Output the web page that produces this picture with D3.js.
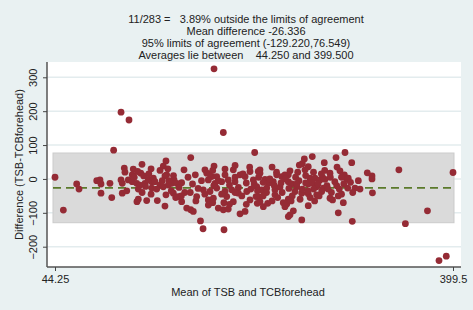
<!DOCTYPE html>
<html><head><meta charset="utf-8">
<script src="https://cdn.jsdelivr.net/npm/d3@7"></script>
<style>body{margin:0;background:#e9f1f2;} svg{display:block;} text{font-family:"Liberation Sans",Arial,sans-serif;fill:#222;}</style>
</head><body><svg id="c" width="473" height="310"></svg>
<script>
const titleLines = [
  "11/283 =   3.89% outside the limits of agreement",
  "Mean difference -26.336",
  "95% limits of agreement (-129.220,76.549)",
  "Averages lie between    44.250 and 399.500"
];
const meanDiff = -26.336;
const loaLower = -129.220;
const loaUpper = 76.549;
const xMin = 44.25, xMax = 399.5;
const yTicks = [-200, -100, 0, 100, 200, 300];
const xTickLabels = ["44.25", "399.5"];
const xTitle = "Mean of TSB and TCBforehead";
const yTitle = "Difference (TSB-TCBforehead)";

// mean of the two methods
const means = [186.2,103.2,110.3,194.5,96.6,44.25,51.7,387,393.5,357,376.7,399.5,351.2,323,327.2,327.2,327.6,316.5,174.1,176.4,195.1,264.5,309.6,297.1,
63.6,65.7,81.5,84.4,85.3,93.3,85.3,94.9,103.2,104.3,106.1,106.7,114.1,113.2,121.9,120.8,123.4,109.7,113.2,117.2,120.1,104.3,108.3,118.6,124.6,127.5,130.6,117.4,118.6,126.1,130.6,
222.5,143.3,140.9,165.4,159.4,169.5,143.9,142.4,132,133.5,150.5,148.4,138,140.9,145.4,152.9,157.3,135.6,142.4,143.3,149.9,154.3,157.3,161.8,165.4,167.7,178.1,179.7,186.2,184.1,188.6,196,203.4,181.1,187.1,193,198.9,204.9,209.4,213.9,218.3,221.3,176.6,182.6,188.6,196,202,207.9,215.4,170.7,181.1,185.6,197.5,203.4,218.3,223.7,190,194.5,198.9,209.4,213.9,181.1,225.7,224.8,
303.1,273.9,266.8,295.1,262.3,270.3,267.4,260.9,284.6,309.1,227.2,227.2,254,252.5,298.6,302.5,304.6,289.7,242.1,246.6,249.5,271.9,276.3,280.8,285.3,231.7,234.7,239.1,252.5,255.5,260,270.3,273.9,277.8,283.7,295.7,305.5,312,224.3,228.8,233.2,240.6,245.1,258.5,264.5,270.3,277.8,282.3,225.7,227.2,230.2,234.1,240.6,252.5,251.1,249.5,270.3,289.7,297.1,301.6,257,254,252.5,
115,118,125,128,135,138,146,150,155,160,163,167,172,175,178,182,186,190,193,196,200,205,208,211,215,219,222,226,230,233,236,240,243,246,250,253,256,259,262,265,268,272,275,279,283,287,291,294,298,302,306,310,122,130,145,157,170,185,200,212,218,238,247,255,263,268,280,285,292,296,300,130,140,165,185,195,205,225,230,242,248,260,270,276,282,290,308,315,148,152,205,215,238,265,275,288,300];
// difference of the two methods
const diffs = [325,197,174,137,85,5,-92,-241,-228,-132,-94,19,27,18,9,0,-41,-30,-124,-147,-150,-121,-125,-100,
-15,-30,-5,-3,-15,-13,-42,-55,-3,-13,32,20,29,12,43,17,9,-3,-8,-13,-18,-42,-35,-30,-13,-3,-8,-67,-60,-64,-27,
78,53,38,63,27,12,12,9,2,-8,-3,-13,-18,-23,-18,-13,-11,-64,-80,-47,-42,-52,-67,-86,-91,-96,27,17,38,7,7,29,27,-3,-13,-8,-3,-8,12,7,22,-3,-32,-37,-27,-37,-32,-42,-37,-52,-62,-57,-52,-67,-62,-52,-86,-91,-89,-103,-96,-77,22,-72,
78,66,59,63,41,36,27,20,48,48,27,17,24,12,24,12,-1,17,12,7,12,2,2,-3,-1,-1,-13,-8,-8,-15,-23,-15,-11,-23,-27,-20,-27,-27,-23,-32,-27,-32,-24,-37,-42,-44,-47,-37,-52,-67,-82,-72,-47,-60,-74,-82,-79,-57,-50,-70,-94,-106,-111,
5,22,-22,15,-30,25,-5,10,-25,-40,5,-15,-28,-5,-45,15,-20,-5,-45,12,-18,5,-25,-50,-12,-30,-15,5,-10,-40,0,-20,-55,-12,0,-28,-50,5,-5,-30,-12,-55,-30,-15,5,-20,-40,-8,-30,-15,2,-40,-40,30,30,-50,-65,-70,-75,15,35,-65,-40,-65,-60,10,-50,25,-62,35,-45,-45,-5,-40,25,-70,-40,-35,-50,20,-70,-15,-35,-65,15,5,-10,-5,-35,-55,40,-75,35,45,20,-30,5];

const data = means.map((m, i) => ({m, d: diffs[i]}));

const svg = d3.select("#c");
const W = 473, H = 310;
const plot = {left: 47, right: 461, top: 62, bottom: 267};

const x = d3.scaleLinear().domain([xMin, xMax]).range([55, 453]);
const y = d3.scaleLinear().domain([-200, 300]).range([246.7, 77.3]);

svg.append("rect").attr("width", W).attr("height", H).attr("fill", "#e9f1f2");
svg.append("rect").attr("x", plot.left).attr("y", plot.top)
  .attr("width", plot.right - plot.left).attr("height", plot.bottom - plot.top).attr("fill", "#fff");

// gridlines
svg.append("g").selectAll("line").data(yTicks).join("line")
  .attr("x1", plot.left).attr("x2", plot.right)
  .attr("y1", d => y(d)).attr("y2", d => y(d))
  .attr("stroke", "#e3ecee").attr("stroke-width", 1.5);

// limits of agreement band
svg.append("rect")
  .attr("x", x(xMin) - 2).attr("y", y(loaUpper))
  .attr("width", x(xMax) - x(xMin) + 3).attr("height", y(loaLower) - y(loaUpper))
  .attr("fill", "#dadada").attr("stroke", "#cbcbcb").attr("stroke-width", 1);

// mean line
svg.append("line")
  .attr("x1", x(xMin) - 2).attr("x2", x(xMax) + 1)
  .attr("y1", y(meanDiff)).attr("y2", y(meanDiff))
  .attr("stroke", "#5b7a2b").attr("stroke-width", 1.8).attr("stroke-dasharray", "8,5");

// points
svg.append("g").selectAll("circle").data(data).join("circle")
  .attr("cx", d => x(d.m)).attr("cy", d => y(d.d)).attr("r", 3.4)
  .attr("fill", "#952b35");

// y axis
const yAxis = svg.append("g").attr("transform", `translate(${plot.left},0)`)
  .call(d3.axisLeft(y).tickValues(yTicks).tickSize(4).tickFormat(d3.format("d")));
yAxis.select(".domain").attr("d", `M0,${plot.top}V${plot.bottom}`).attr("stroke", "#555").attr("stroke-width", 1.5);
yAxis.selectAll(".tick line").attr("stroke", "#444");
yAxis.selectAll(".tick text")
  .attr("x", null).attr("dy", null)
  .attr("transform", "translate(-10,0) rotate(-90)")
  .attr("text-anchor", "middle").attr("dy", "0")
  .style("font-size", "11px").style("font-family", "Liberation Sans, Arial, sans-serif").attr("fill", "#222");

// x axis
const xAxis = svg.append("g").attr("transform", `translate(0,${plot.bottom})`)
  .call(d3.axisBottom(x).tickValues([xMin, xMax]).tickSize(4).tickFormat((d, i) => xTickLabels[i]));
xAxis.select(".domain").attr("d", `M${plot.left},0H${plot.right}`).attr("stroke", "#555").attr("stroke-width", 1.5);
xAxis.selectAll(".tick line").attr("stroke", "#444");
xAxis.selectAll(".tick text").attr("y", 8).style("font-size", "11px")
  .style("font-family", "Liberation Sans, Arial, sans-serif").attr("fill", "#222");

// titles
svg.append("g").selectAll("text").data(titleLines).join("text")
  .attr("x", 246).attr("y", (d, i) => 23 + i * 12)
  .attr("text-anchor", "middle").style("font-size", "11px").style("white-space", "pre")
  .attr("xml:space", "preserve")
  .text(d => d);

svg.append("text").attr("x", 248).attr("y", 296).attr("text-anchor", "middle")
  .style("font-size", "11px").text(xTitle);
svg.append("text").attr("transform", `translate(23,${(plot.top + plot.bottom) / 2}) rotate(-90)`)
  .attr("text-anchor", "middle").style("font-size", "11px").text(yTitle);
</script></body></html>
